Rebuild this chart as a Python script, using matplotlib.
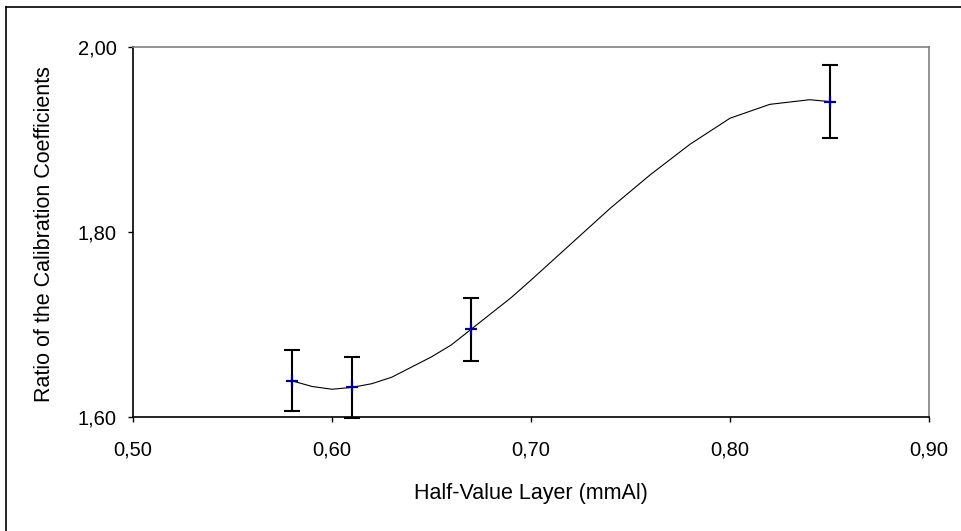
import numpy as np
import matplotlib
matplotlib.use("Agg")
import matplotlib.pyplot as plt
from matplotlib.lines import Line2D
from matplotlib.ticker import FuncFormatter

# measured points with error bars
hvl = [0.58, 0.61, 0.67, 0.85]
ratio = [1.639, 1.632, 1.695, 1.941]
ratio_err = [0.033, 0.033, 0.034, 0.039]

# smoothed curve
curve_x = [0.58, 0.59, 0.60, 0.61, 0.62, 0.63, 0.64, 0.65, 0.66, 0.67, 0.68,
           0.69, 0.70, 0.72, 0.74, 0.76, 0.78, 0.80, 0.82, 0.84, 0.85]
curve_y = [1.639, 1.633, 1.630, 1.632, 1.636, 1.643, 1.654, 1.665, 1.678, 1.695, 1.712,
           1.729, 1.748, 1.787, 1.826, 1.862, 1.895, 1.923, 1.938, 1.943, 1.941]

x_ticks = [0.50, 0.60, 0.70, 0.80, 0.90]
y_ticks = [1.60, 1.80, 2.00]


def comma(v, pos):
    return f"{v:.2f}".replace(".", ",")


def main():
    plt.rcParams['font.family'] = ['Liberation Sans', 'DejaVu Sans']
    W, H = 961, 531
    fig = plt.figure(figsize=(W / 100, H / 100), dpi=100)
    ax = fig.add_axes([133 / W, 1 - 417 / H, (929 - 133) / W, (417 - 47) / H])

    ax.plot(curve_x, curve_y, color='black', lw=0.8, zorder=2)
    ax.errorbar(hvl, ratio, yerr=ratio_err, fmt='none', ecolor='black',
                elinewidth=1.5, capsize=6, capthick=1.5, zorder=3, clip_on=False)
    ax.plot(hvl, ratio, linestyle='none', marker='+', color='#000080',
            markersize=8, markeredgewidth=1.6, zorder=4, clip_on=False)

    ax.set_xlim(0.50, 0.90)
    ax.set_ylim(1.60, 2.00)
    ax.set_xticks(x_ticks)
    ax.set_yticks(y_ticks)
    ax.xaxis.set_major_formatter(FuncFormatter(comma))
    ax.yaxis.set_major_formatter(FuncFormatter(comma))
    ax.tick_params(axis='both', direction='out', length=3.8, width=1,
                   labelsize=14.5, color='black')
    ax.tick_params(axis='x', pad=13)
    ax.tick_params(axis='y', pad=8)

    ax.spines['left'].set_color('black')
    ax.spines['bottom'].set_color('black')
    ax.spines['top'].set_color('#808080')
    ax.spines['right'].set_color('#808080')
    for s in ax.spines.values():
        s.set_linewidth(1.2)

    fig.text(531 / W, 1 - 494 / H, 'Half-Value Layer (mmAl)', ha='center',
             va='center', fontsize=15.5)
    fig.text(45 / W, 1 - 234 / H, 'Ratio of the Calibration Coefficients',
             ha='center', va='center', rotation=90, fontsize=15.5)

    # outer chart frame (cut off at right and bottom)
    fig.add_artist(Line2D([6 / W, 6 / W], [0, 1 - 7 / H], color='black', lw=1.2))
    fig.add_artist(Line2D([6 / W, 1], [1 - 7 / H, 1 - 7 / H], color='black', lw=1.2))

    fig.savefig('out.png', dpi=100)


if __name__ == '__main__':
    main()
